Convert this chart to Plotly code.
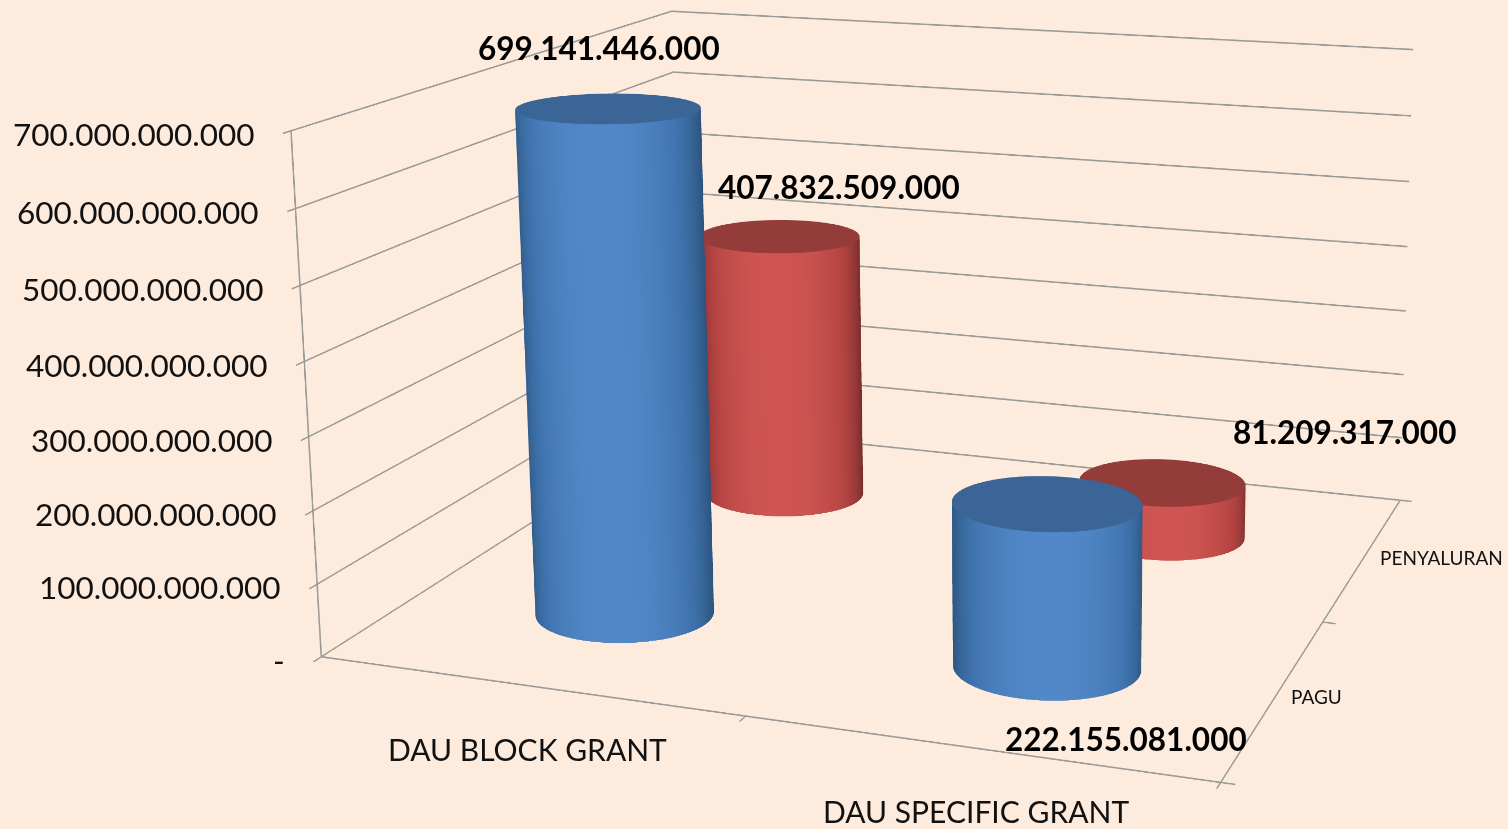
import numpy as np
import plotly.graph_objects as go

categories = ["DAU BLOCK GRANT", "DAU SPECIFIC GRANT"]
series_names = ["PAGU", "PENYALURAN"]
pagu = [699141446000, 222155081000]
penyaluran = [407832509000, 81209317000]
value_labels_pagu = ["699.141.446.000", "222.155.081.000"]
value_labels_penyaluran = ["407.832.509.000", "81.209.317.000"]
z_ticks = [0, 100e9, 200e9, 300e9, 400e9, 500e9, 600e9, 700e9]
z_labels = ["-", "100.000.000.000", "200.000.000.000", "300.000.000.000", "400.000.000.000",
            "500.000.000.000", "600.000.000.000", "700.000.000.000"]

W, H = 1508, 829
# Plotly's perspective lens is fixed, so a large canvas is cropped to narrow the field of view.
CW, CH = 4090, 2248
EYE = (1.925, -4.864, 1.425)
CENTER = (-0.245, 1.604, 0)
ASPECT = (1.733, 1.534, 1)
OFFSET = (287.212, -244.782)

BLUE = [[0, "#2a5280"], [.3, "#33608f"], [.6, "#3f72ad"], [1, "#5288c8"]]
RED = [[0, "#70292a"], [.3, "#8e3635"], [.6, "#b24341"], [1, "#cf5552"]]
BLUE_CAP, RED_CAP = "#3a6596", "#933c39"
BG = "#fdebdd"
AXC = "#9a9a96"
TXT = "#111111"
R = 0.203

th = np.linspace(0, 2 * np.pi, 145)
vang = np.arctan2(EYE[1] - CENTER[1], EYE[0] - CENTER[0])
FLAT = dict(ambient=1, diffuse=0, specular=0, roughness=1, fresnel=0)


def cylinder(xc, yc, val, scale, cap):
    X = np.array([xc + R * np.cos(th)] * 2)
    Y = np.array([yc + R * np.sin(th)] * 2)
    Z = np.array([np.zeros_like(th), np.full_like(th, val)])
    S = np.clip(np.cos(th - vang), 0, 1)
    side = go.Surface(x=X, y=Y, z=Z, surfacecolor=np.array([S, S]), cmin=0, cmax=1, colorscale=scale,
                      showscale=False, lighting=FLAT, hoverinfo="skip")
    r = np.array([0, 1.0])
    XX = xc + R * np.outer(r, np.cos(th))
    YY = yc + R * np.outer(r, np.sin(th))
    top = go.Surface(x=XX, y=YY, z=np.full_like(XX, val), surfacecolor=np.zeros_like(XX), cmin=0, cmax=1,
                     colorscale=[[0, cap], [1, cap]], showscale=False, lighting=FLAT, hoverinfo="skip")
    return [side, top]


fig = go.Figure()
for i in range(len(categories)):
    fig.add_traces(cylinder(i + .5, 1.5, penyaluran[i], RED, RED_CAP))
for i in range(len(categories)):
    fig.add_traces(cylinder(i + .5, .5, pagu[i], BLUE, BLUE_CAP))

anns = []


def ann(x, y, z, text, size, xs=0, ys=0, xa="center", bold=False):
    anns.append(dict(x=x, y=y, z=z, text=text, showarrow=False, xanchor=xa, yanchor="middle", xshift=xs, yshift=ys,
                     font=dict(family="Lato", size=size, color="#000000" if bold else TXT,
                               weight="bold" if bold else "normal")))


for v, t in zip(z_ticks, z_labels):
    ann(0, 0, v, t, 31.5, xs=-34, ys=-3, xa="right")
for i, c in enumerate(categories):
    ann(i + .5, 0, 0, c, 30, ys=-63)
for i, c in enumerate(series_names):
    ann(2, i + .5, 0, c, 19, xs=14, xa="left")
pagu_off = [(-9, 60), (79, -236)]
peny_off = [(60, 49), (182, 50)]
for i in range(len(categories)):
    ann(i + .5, .5, pagu[i], value_labels_pagu[i], 31.5, *pagu_off[i], bold=True)
    ann(i + .5, 1.5, penyaluran[i], value_labels_penyaluran[i], 31.5, *peny_off[i], bold=True)

common = dict(showbackground=False, zeroline=False, showspikes=False, title=dict(text=""), showticklabels=False,
              showline=True, linecolor=AXC, linewidth=3, ticks="outside", ticklen=10, tickcolor=AXC, tickwidth=3)
fig.update_layout(
    paper_bgcolor=BG, margin=dict(l=0, r=0, t=0, b=0), width=CW, height=CH, showlegend=False,
    scene=dict(
        bgcolor=BG, domain=dict(x=[0, 1], y=[0, 1]), aspectmode="manual",
        aspectratio=dict(x=ASPECT[0], y=ASPECT[1], z=ASPECT[2]),
        camera=dict(eye=dict(x=EYE[0], y=EYE[1], z=EYE[2]), center=dict(x=CENTER[0], y=CENTER[1], z=CENTER[2]),
                    up=dict(x=0, y=0, z=1), projection=dict(type="perspective")),
        annotations=anns,
        xaxis=dict(common, range=[0, 2], tickvals=[0, 1, 2], showgrid=False),
        yaxis=dict(common, range=[0, 2], tickvals=[0, 1, 2], showgrid=False),
        zaxis=dict(common, range=[0, 700e9], tickvals=z_ticks, showgrid=True, gridcolor=AXC, gridwidth=3),
    ),
)
left = (W - CW) / 2 + OFFSET[0]
top = (H - CH) / 2 + OFFSET[1]
post = ("document.documentElement.style.overflow='hidden';document.body.style.margin='0';"
        "document.body.style.overflow='hidden';document.body.style.background='%s';"
        "var d=document.querySelector('.plotly-graph-div');d.style.position='absolute';"
        "d.style.left='%fpx';d.style.top='%fpx';" % (BG, left, top))
fig.write_html("out.html", post_script=post, config=dict(displayModeBar=False))
